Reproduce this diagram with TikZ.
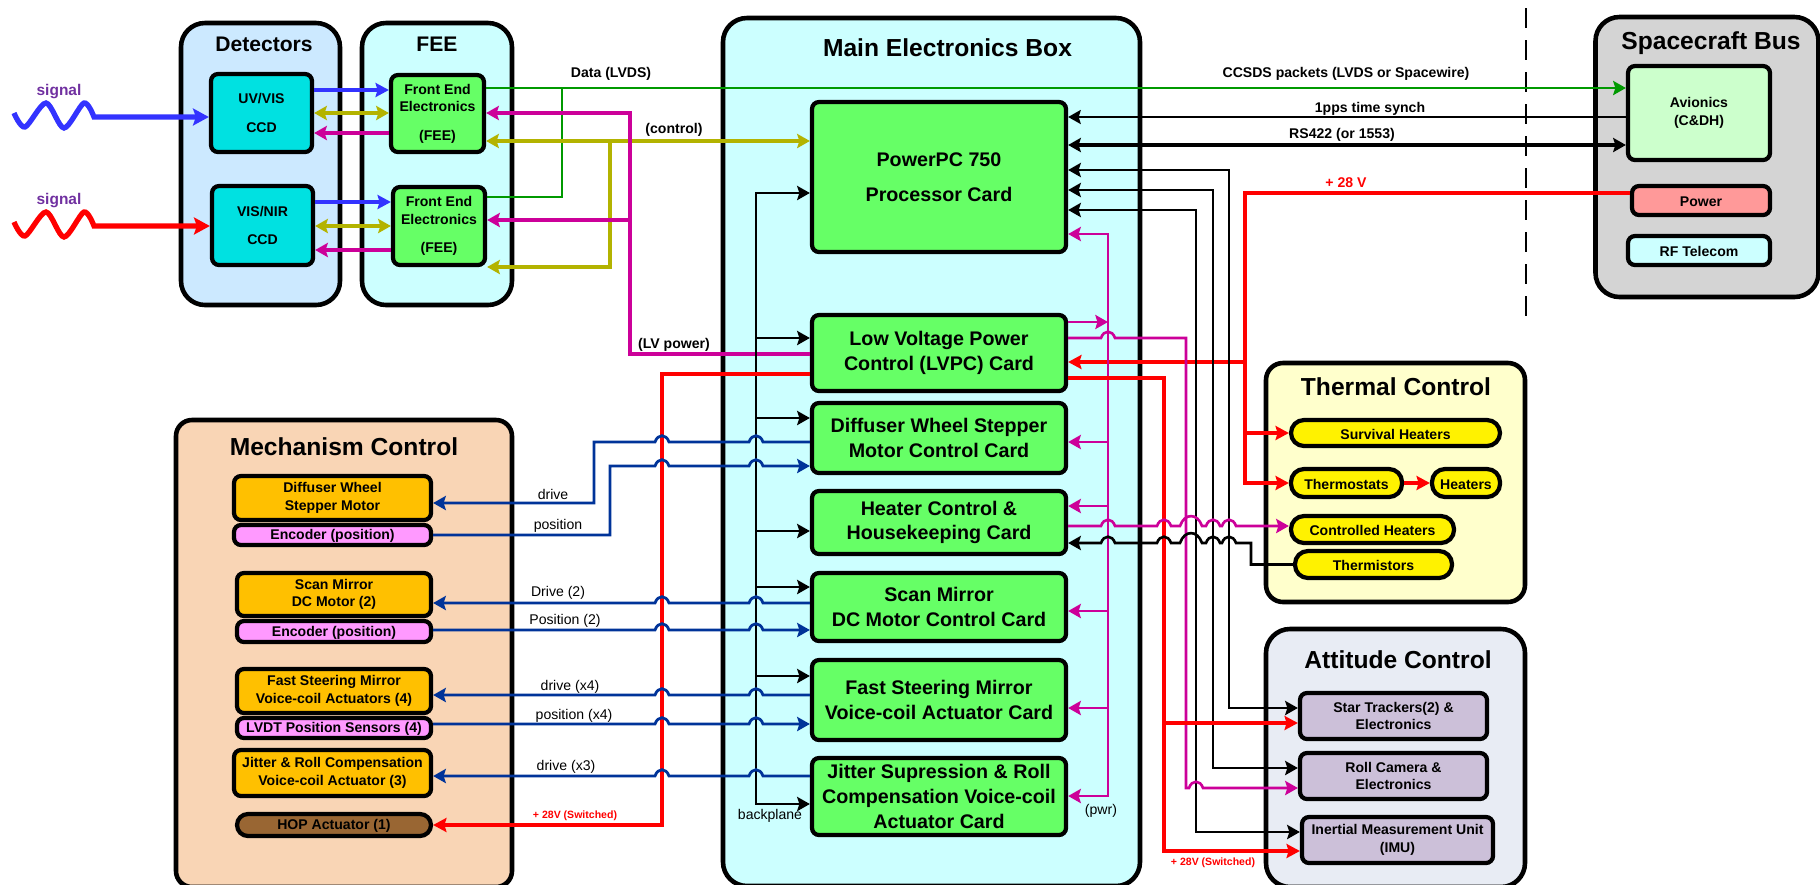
\documentclass[tikz,border=0pt]{standalone}
\usepackage{fontspec}
\setmainfont{Liberation Sans}
\usetikzlibrary{arrows.meta}

\definecolor{panelblue}{HTML}{CCE9FF}
\definecolor{panelcyan}{HTML}{CCFFFF}
\definecolor{panelpeach}{HTML}{F9D5B5}
\definecolor{panelyellow}{HTML}{FFFFCC}
\definecolor{panelgrey}{HTML}{E8ECF4}
\definecolor{panelbus}{HTML}{D4D4D4}
\definecolor{cardgreen}{HTML}{66FF66}
\definecolor{ccdcyan}{HTML}{00E1E1}
\definecolor{motororange}{HTML}{FFC000}
\definecolor{encpink}{HTML}{FF99FF}
\definecolor{hopbrown}{HTML}{996633}
\definecolor{sensorpurple}{HTML}{CCC0D9}
\definecolor{avgreen}{HTML}{CCFFCC}
\definecolor{powerred}{HTML}{FF9999}
\definecolor{sigblue}{HTML}{3333FF}
\definecolor{sigpurple}{HTML}{7030A0}
\definecolor{wireolive}{HTML}{B3B300}
\definecolor{wiremag}{HTML}{CC0099}
\definecolor{wiregreen}{HTML}{009900}
\definecolor{wireblue}{HTML}{003399}

\tikzset{
  wh/.style 2 args={minimum width=#1*0.01cm, minimum height=#2*0.01cm},
  boxbase/.style={draw, rectangle, inner sep=0pt, align=center},
  panelbox/.style={boxbase, line width=1.3pt, rounded corners=0.24cm},
  paneltitle/.style={font=\fontsize{7}{8.4}\selectfont\bfseries, inner sep=0pt},
  cardbox/.style={boxbase, line width=1.2pt, rounded corners=0.07cm, fill=cardgreen, font=\fontsize{5.6}{7}\selectfont\bfseries},
  itembox/.style={boxbase, line width=1.2pt, rounded corners=0.07cm, font=\fontsize{4}{5}\selectfont\bfseries, execute at begin node={\rule{0pt}{3.6pt}}},
  motorbox/.style={itembox, fill=motororange, execute at begin node={\rule{0pt}{5pt}}},
  pillbox/.style={itembox, rounded corners=0.13cm, fill=yellow},
  wirelabel/.style={font=\fontsize{4}{5}\selectfont, inner sep=0pt},
  boldlabel/.style={wirelabel, font=\fontsize{4}{5}\selectfont\bfseries},
  redlabel/.style={inner sep=0pt, text=red, font=\fontsize{3}{4}\selectfont\bfseries},
  signalwire/.style={line width=1.5pt, >={Stealth[length=4.5pt,width=4.8pt,inset=.8pt]}},
  fatwire/.style={line width=1.3pt, >={Stealth[length=3.8pt,width=4pt,inset=.6pt]}},
  redwire/.style={fatwire, red},
  oliveline/.style={line width=1pt, wireolive},
  magthick/.style={line width=1pt, wiremag},
  pwrwire/.style={line width=.75pt, wiremag},
  greenwire/.style={line width=.8pt, wiregreen},
  bluewire/.style={line width=.8pt, wireblue},
  blackwire/.style={line width=.75pt, black}
}
\newcommand{\hop}[3]{-- ({#2-#1},#3) .. controls ({#2-0.6*#1},{#3-1.2*abs(#1)}) and ({#2+0.6*#1},{#3-1.2*abs(#1)}) .. ({#2+#1},#3)}

\begin{document}
\begin{tikzpicture}[x=0.01cm, y=-0.01cm, >={Stealth[length=3.6pt,width=4pt,inset=.6pt]}]
    \useasboundingbox (0,0) rectangle (1820,884);

    % Panels
    \node[panelbox, fill=panelblue, wh={159}{282}] (detpanel) at (260.5,164) {};
    \node[panelbox, fill=panelcyan, wh={150}{282}] (feepanel) at (437,164) {};
    \node[panelbox, fill=panelcyan, wh={417}{868}] (mainpanel) at (931.5,452) {};
    \node[panelbox, fill=panelpeach, rounded corners=0.16cm, wh={336}{467}] (mechpanel) at (344,653.5) {};
    \node[panelbox, fill=panelyellow, rounded corners=0.17cm, wh={259}{239}] (thermpanel) at (1395.5,482.5) {};
    \node[panelbox, fill=panelgrey, wh={259}{258}] (attpanel) at (1395.5,758) {};
    \node[panelbox, fill=panelbus, wh={223}{280}] (buspanel) at (1707,157) {};

    % Titles
    \node[paneltitle, font=\fontsize{6}{7}\selectfont\bfseries] (dettitle) at (264,44) {Detectors};
    \node[paneltitle, font=\fontsize{6}{7}\selectfont\bfseries] (feetitle) at (437,44) {FEE};
    \node[paneltitle] (maintitle) at (947.5,48) {Main Electronics Box};
    \node[paneltitle] (mechtitle) at (344,447) {Mechanism Control};
    \node[paneltitle] (thermtitle) at (1396,387) {Thermal Control};
    \node[paneltitle] (atttitle) at (1398,660) {Attitude Control};
    \node[paneltitle] (bustitle) at (1711,43) {Spacecraft Bus};

    % Detectors and FEE
    \node[itembox, fill=ccdcyan, wh={101}{78}] (ccdA) at (261.5,113) {UV/VIS\\[3pt]CCD};
    \node[itembox, fill=ccdcyan, wh={101}{79}] (ccdB) at (262.5,225.5) {VIS/NIR\\[3pt]CCD};
    \node[itembox, fill=cardgreen, wh={93}{77}] (feeA) at (437.5,113.5) {Front End\\Electronics\\[3pt](FEE)};
    \node[itembox, fill=cardgreen, wh={92}{78}] (feeB) at (439,226) {Front End\\Electronics\\[3pt](FEE)};

    % Cards
    \node[cardbox, wh={254}{150}] (proc) at (939,177) {PowerPC 750\\[3pt]Processor Card};
    \node[cardbox, wh={254}{76}] (lvpc) at (939,353) {Low Voltage Power\\Control (LVPC) Card};
    \node[cardbox, wh={254}{70}] (dcard) at (939,438) {Diffuser Wheel Stepper\\Motor Control Card};
    \node[cardbox, wh={254}{63}] (hcard) at (939,522.5) {Heater Control \&\\Housekeeping Card};
    \node[cardbox, wh={254}{68}] (scard) at (939,607) {Scan Mirror\\DC Motor Control Card};
    \node[cardbox, wh={254}{80}] (fcard) at (939,700) {Fast Steering Mirror\\Voice-coil Actuator Card};
    \node[cardbox, wh={254}{77}] (jcard) at (939,796.5) {Jitter Supression \& Roll\\Compensation Voice-coil\\Actuator Card};

    % Mechanisms
    \node[motorbox, wh={197}{44}] (dmotor) at (332.5,498) {Diffuser Wheel\\Stepper Motor};
    \node[itembox, fill=encpink, wh={197}{20}] (encA) at (332.5,535) {Encoder (position)};
    \node[motorbox, wh={194}{43}] (smotor) at (334,594.5) {Scan Mirror\\DC Motor (2)};
    \node[itembox, fill=encpink, wh={194}{21}] (encB) at (334,631.5) {Encoder (position)};
    \node[motorbox, wh={194}{44}] (fmotor) at (334,691) {Fast Steering Mirror\\Voice-coil Actuators (4)};
    \node[itembox, fill=encpink, wh={194}{20}] (lvdt) at (334,728) {LVDT Position Sensors (4)};
    \node[itembox, fill=motororange, wh={197}{46}] (jmotor) at (332.5,773) {Jitter \& Roll Compensation\\Voice-coil Actuator (3)};
    \node[itembox, fill=hopbrown, rounded corners=0.11cm, wh={194}{22}] (hopact) at (334,825) {HOP Actuator (1)};

    % Thermal
    \node[pillbox, wh={209}{26}] (surv) at (1395.5,433) {Survival Heaters};
    \node[pillbox, wh={111}{28}] (thermo) at (1346.5,483) {Thermostats};
    \node[pillbox, wh={68}{28}] (heaters) at (1466,483) {Heaters};
    \node[pillbox, wh={163}{27}] (ctrlheat) at (1372.5,529.5) {Controlled Heaters};
    \node[pillbox, wh={157}{27}] (thrm) at (1373.5,564.5) {Thermistors};

    % Attitude
    \node[itembox, fill=sensorpurple, wh={187}{46}] (star) at (1393.5,716) {Star Trackers(2) \&\\Electronics};
    \node[itembox, fill=sensorpurple, wh={187}{46}] (rollcam) at (1393.5,776) {Roll Camera \&\\Electronics};
    \node[itembox, fill=sensorpurple, wh={191}{46}] (imu) at (1397.5,840) {Inertial Measurement Unit\\(IMU)};

    % Bus
    \node[itembox, fill=avgreen, wh={142}{94}] (avionics) at (1699,113) {Avionics\\(C\&DH)};
    \node[itembox, fill=powerred, wh={138}{29}] (power) at (1701,200.5) {Power};
    \node[itembox, fill=panelcyan, wh={142}{29}] (rfcom) at (1699,250.5) {RF Telecom};

    % Boundary
    \coordinate (bordertop) at (1526,8);
    \coordinate (borderbot) at (1526,317);
    \draw[line width=.7pt, dash pattern=on 5.7pt off 3.4pt] (bordertop) -- (borderbot);

    % Incoming signals
    \node[font=\fontsize{4.4}{5}\selectfont\bfseries, text=sigpurple, inner sep=0pt] (sigA) at (59,92) {signal};
    \node[font=\fontsize{4.4}{5}\selectfont\bfseries, text=sigpurple, inner sep=0pt] (sigB) at (59,201) {signal};
    \draw[signalwire, sigblue, ->] plot[smooth] coordinates {(14,113) (25,127) (46,103) (64,128) (84,103) (94,117)} -- (ccdA.west |- 0,117);
    \draw[signalwire, red, ->] plot[smooth] coordinates {(14,222) (25,236) (46,212) (64,237) (84,212) (94,226)} -- (ccdB.west |- 0,226);

    % Detector links
    \draw[fatwire, sigblue, ->] (ccdA.east |- 0,90) -- (feeA.west |- 0,90);
    \draw[fatwire, sigblue, ->] (ccdB.east |- 0,202) -- (feeB.west |- 0,202);
    \draw[oliveline, <->] (ccdA.east |- 0,113) -- (feeA.west |- 0,113);
    \draw[oliveline, <->] (ccdB.east |- 0,226) -- (feeB.west |- 0,226);
    \draw[magthick, ->] (feeA.west |- 0,133) -- (ccdA.east |- 0,133);
    \draw[magthick, ->] (feeB.west |- 0,250) -- (ccdB.east |- 0,250);

    % Data, control, LV power
    \draw[greenwire, ->] (feeA.east |- 0,88) -- (avionics.west |- 0,88);
    \draw[greenwire] (feeB.east |- 0,197) -- (562,197) -- (562,88);
    \draw[oliveline, <->] (feeA.east |- 0,141) -- (proc.west |- 0,141);
    \draw[oliveline, ->] (610,141) -- (610,267) -- (feeB.east |- 0,267);
    \draw[magthick, ->] (lvpc.west |- 0,354) -- (630,354) -- (630,113) -- (feeA.east |- 0,113);
    \draw[magthick, ->] (630,220) -- (feeB.east |- 0,220);

    % Spacecraft bus links
    \draw[blackwire, line width=.6pt, ->] (avionics.west |- 0,117) -- (proc.east |- 0,117);
    \draw[blackwire, line width=1.1pt, <->] (proc.east |- 0,145) -- (avionics.west |- 0,145);
    \draw[redwire] (power.west |- 0,193) -- (1245,193) -- (1245,362);
    \draw[redwire, ->] (1245,362) -- (lvpc.east |- 0,362);
    \draw[redwire, ->] (1245,362) -- (1245,483) -- (thermo.west);
    \draw[redwire, ->] (1245,433) -- (surv.west);
    \draw[redwire, ->] (thermo.east) -- (heaters.west);

    % Backplane
    \draw[blackwire, <->] (proc.west |- 0,193) -- (756,193) -- (756,804) -- (jcard.west |- 0,804);
    \foreach \ya/\card in {338/lvpc, 418/dcard, 531/hcard, 587/scard, 676/fcard}
        \draw[blackwire, ->] (756,\ya) -- (\card.west |- 0,\ya);

    % Processor to sensors
    \draw[blackwire, <->] (proc.east |- 0,170) -- (1229,170) -- (1229,708) -- (star.west |- 0,708);
    \draw[blackwire, <->] (proc.east |- 0,190) -- (1213,190) -- (1213,768) -- (rollcam.west |- 0,768);
    \draw[blackwire, <->] (proc.east |- 0,210) -- (1196,210) -- (1196,832) -- (imu.west |- 0,832);

    % Secondary power
    \draw[pwrwire, <->] (proc.east |- 0,234) -- (1108,234) -- (1108,796) -- (jcard.east |- 0,796);
    \foreach \ya/\card in {442/dcard, 506/hcard, 611/scard, 708/fcard}
        \draw[pwrwire, ->] (1108,\ya) -- (\card.east |- 0,\ya);
    \draw[pwrwire, ->] (lvpc.east |- 0,322) -- (1108,322);
    \draw[pwrwire, ->] (lvpc.east |- 0,338) \hop{7}{1108}{338} -- (1186,338) -- (1186,788) \hop{7}{1196}{788} -- (rollcam.west |- 0,788);

    % Switched 28V
    \draw[redwire, ->] (lvpc.east |- 0,378) -- (1164,378) -- (1164,851) -- (imu.west |- 0,851);
    \draw[redwire, ->] (1164,723) -- (star.west |- 0,723);
    \draw[redwire, ->] (lvpc.west |- 0,374) -- (662,374) -- (662,825) -- (hopact.east);

    % Heater card links
    \draw[pwrwire, ->] (hcard.east |- 0,526) \hop{7}{1108}{526} \hop{7}{1164}{526} \hop{11}{1191}{526} \hop{7}{1213}{526} \hop{7}{1229}{526} -- (ctrlheat.west |- 0,526);
    \draw[blackwire, ->] (thrm.west) -| (1251,543) \hop{-7}{1229}{543} \hop{-7}{1213}{543} \hop{-11}{1191}{543} \hop{-7}{1164}{543} \hop{-7}{1108}{543} -- (hcard.east |- 0,543);

    % Mechanism drive lines
    \draw[bluewire, ->] (dcard.west |- 0,442) \hop{-7}{756}{442} \hop{-7}{662}{442} -- (594,442) -- (594,503) -- (dmotor.east |- 0,503);
    \draw[bluewire, ->] (encA.east) -- (610,535) -- (610,466) \hop{7}{662}{466} \hop{7}{756}{466} -- (dcard.west |- 0,466);
    \draw[bluewire, ->] (scard.west |- 0,603) \hop{-7}{756}{603} \hop{-7}{662}{603} -- (smotor.east |- 0,603);
    \draw[bluewire, ->] (encB.east |- 0,630) \hop{7}{662}{630} \hop{7}{756}{630} -- (scard.west |- 0,630);
    \draw[bluewire, ->] (fcard.west |- 0,695) \hop{-7}{756}{695} \hop{-7}{662}{695} -- (fmotor.east |- 0,695);
    \draw[bluewire, ->] (lvdt.east |- 0,724) \hop{7}{662}{724} \hop{7}{756}{724} -- (fcard.west |- 0,724);
    \draw[bluewire, ->] (jcard.west |- 0,776) \hop{-7}{756}{776} \hop{-7}{662}{776} -- (jmotor.east |- 0,776);

    % Labels
    \node[boldlabel] (lbldata) at (611,74) {Data (LVDS)};
    \node[boldlabel] (lblctrl) at (674,130) {(control)};
    \node[boldlabel] (lbllv) at (674,345) {(LV power)};
    \node[boldlabel] (lblccsds) at (1346,74) {CCSDS packets (LVDS or Spacewire)};
    \node[boldlabel] (lblpps) at (1370,109) {1pps time synch};
    \node[boldlabel] (lblrs) at (1342,135) {RS422 (or 1553)};
    \node[boldlabel, text=red] (lblbus) at (1346,183) {+ 28 V};
    \node[wirelabel] (lbldrA) at (553,494) {drive};
    \node[wirelabel] (lblpoA) at (558,526) {position};
    \node[wirelabel] (lbldrB) at (558,593) {Drive (2)};
    \node[wirelabel] (lblpoB) at (565,621) {Position (2)};
    \node[wirelabel] (lbldrC) at (570,687) {drive (x4)};
    \node[wirelabel] (lblpoC) at (574,716) {position (x4)};
    \node[wirelabel] (lbldrD) at (566,767) {drive (x3)};
    \node[wirelabel] (lblback) at (770,816) {backplane};
    \node[wirelabel] (lblpwr) at (1101,811) {(pwr)};
    \node[redlabel] (lblswA) at (575,816) {+ 28V (Switched)};
    \node[redlabel] (lblswB) at (1213,863) {+ 28V (Switched)};
\end{tikzpicture}
\end{document}
